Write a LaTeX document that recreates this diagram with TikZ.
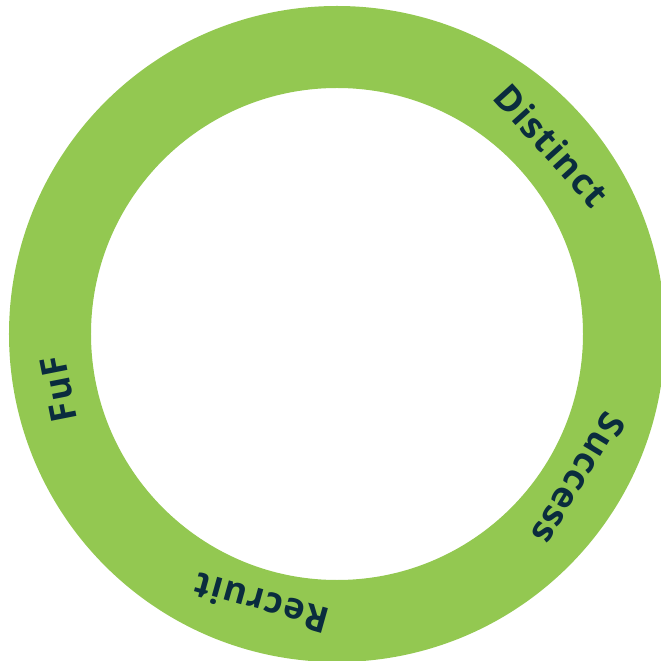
\documentclass[tikz,border=0pt]{standalone}
\usepackage{fontspec}
\usepackage{xcolor}
\usepackage{tikz}
\newfontfamily\ringfont[LetterSpace=4]{Open Sans Bold}
\definecolor{ringgreen}{RGB}{147,200,81}
\definecolor{labelnavy}{RGB}{10,44,62}
\tikzset{ringlabel/.style={text=labelnavy,font=\ringfont\fontsize{36}{36}\selectfont,inner sep=0pt}}

\begin{document}
\begin{tikzpicture}[x=1pt,y=1pt]
    \useasboundingbox (-337,-327) rectangle (324,334);
    \clip (-337,-327) rectangle (324,334);
    \fill[ringgreen,even odd rule] (0,0) circle (328) (0,0) circle (246);
    \node[ringlabel,rotate=-48] (distinct) at (41.3:286) {Distinct};
    \node[ringlabel,rotate=-121] (success) at (-31:282) {Success};
    \node[ringlabel,rotate=164.3] (recruit) at (-105.7:280) {Recruit};
    \node[ringlabel,rotate=101.2] (fuf) at (-168.8:284) {FuF};
\end{tikzpicture}
\end{document}
